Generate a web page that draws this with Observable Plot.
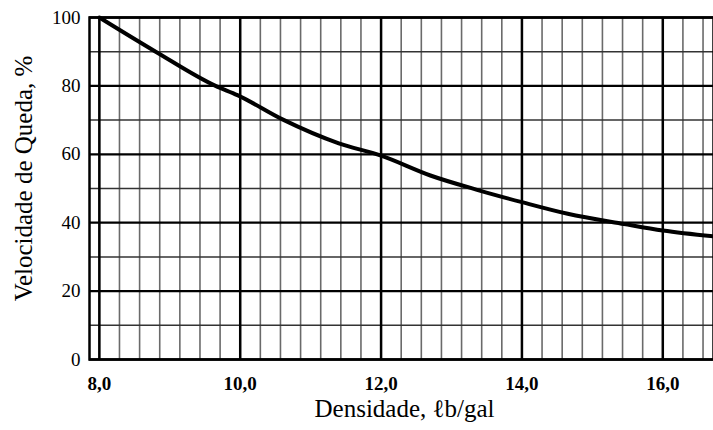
<!DOCTYPE html>
<html>
<head>
<meta charset="utf-8">
<script src="https://cdn.jsdelivr.net/npm/d3@7"></script>
<script src="https://cdn.jsdelivr.net/npm/@observablehq/plot@0.6"></script>
<style>
  html, body { margin: 0; padding: 0; background: #fff; }
  #chart svg { display: block; }
  #chart svg text { font-family: "Liberation Serif", "DejaVu Serif", serif !important; font-variant: normal !important; }
</style>
</head>
<body>
<div id="chart"></div>
<script>
// Data
const densidade = [8.0, 8.8, 9.65, 9.96, 10.6, 11.4, 12.0, 12.7, 13.4, 14.0, 14.65, 15.45, 16.0, 16.72];
const velocidade = [100, 90, 80, 77.3, 70.2, 63.2, 59.6, 53.8, 49.4, 46.0, 42.6, 39.6, 37.7, 36.0];

const xMajorTicks = [8, 10, 12, 14, 16];
const yMajorTicks = [0, 20, 40, 60, 80, 100];
const yMinorTicks = [10, 30, 50, 70, 90];
const xMinorStep = 2 / 7;
const xMinorTicks = d3.range(0, 31).map(k => 8 + k * xMinorStep).filter(v => v <= 16.72);

const xTitle = "Densidade, \u2113b/gal";
const yTitle = "Velocidade de Queda, %";

const serif = "Liberation Serif, DejaVu Serif, serif";
const data = densidade.map((d, i) => ({x: d, y: velocidade[i]}));
const fmt = d => d.toFixed(1).replace(".", ",");

const chart = Plot.plot({
  width: 713,
  height: 430,
  marginLeft: 89,
  marginRight: 0,
  marginTop: 17,
  marginBottom: 71,
  style: {fontFamily: serif, fontSize: "19px", color: "#000", background: "#fff"},
  x: {domain: [7.86, 16.72]},
  y: {domain: [0, 100]},
  marks: [
    Plot.ruleX(xMinorTicks, {stroke: "#6a6a6a", strokeWidth: 1.6}),
    Plot.ruleY(yMinorTicks, {stroke: "#333", strokeWidth: 1.5}),
    Plot.ruleY(yMajorTicks, {stroke: "#000", strokeWidth: 2.3}),
    Plot.ruleX(xMajorTicks, {stroke: "#000", strokeWidth: 2.5}),
    Plot.frame({stroke: "#000", strokeWidth: 2.5}),
    Plot.line(data, {x: "x", y: "y", curve: "monotone-x", stroke: "#000", strokeWidth: 4}),
    Plot.axisX({ticks: xMajorTicks, tickFormat: fmt, tickSize: 0, tickPadding: 17, fontSize: 19, fontWeight: "bold", fontFamily: serif, label: null}),
    Plot.axisY({ticks: yMajorTicks, tickSize: 0, tickPadding: 9, fontSize: 19, fontFamily: serif, label: null}),
    Plot.text([xTitle], {frameAnchor: "bottom", dy: 57, dx: 3, fontSize: 25, fontFamily: serif, fill: "#000"}),
    Plot.text([yTitle], {frameAnchor: "left", textAnchor: "middle", dx: -66, dy: -10, rotate: -90, fontSize: 25, fontFamily: serif, fill: "#000"})
  ]
});
document.getElementById("chart").appendChild(chart);
</script>
</body>
</html>
